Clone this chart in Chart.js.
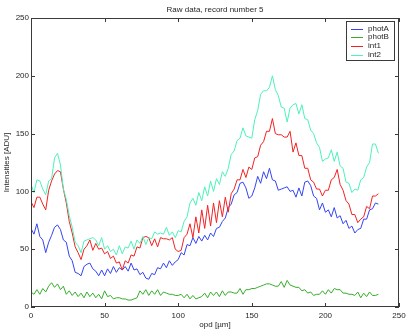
<!DOCTYPE html>
<html>
<head>
<meta charset="utf-8">
<script src="https://cdn.jsdelivr.net/npm/chart.js@4"></script>
<style>
  html, body { margin: 0; padding: 0; background: #fff; }
  canvas { display: block; }
</style>
</head>
<body>
<canvas id="chart" width="409" height="332"></canvas>
<script>
// opd sample positions [µm]
const opd = [
  0, 2, 4, 6, 8, 10, 12, 14, 16, 18, 20, 22, 24, 26, 28, 30, 32, 34, 36, 38,
  40, 42, 44, 46, 48, 50, 52, 54, 56, 58, 60, 62, 64, 66, 68, 70, 72, 74, 76, 78,
  80, 82, 84, 86, 88, 90, 92, 94, 96, 98, 100, 102, 104, 106, 108, 110, 112, 114, 116, 118,
  120, 122, 124, 126, 128, 130, 132, 134, 136, 138, 140, 142, 144, 146, 148, 150, 152, 154, 156, 158,
  160, 162, 164, 166, 168, 170, 172, 174, 176, 178, 180, 182, 184, 186, 188, 190, 192, 194, 196, 198,
  200, 202, 204, 206, 208, 210, 212, 214, 216, 218, 220, 222, 224, 226, 228, 230, 232, 234, 236
];

const photA = [
  68, 63, 72, 61, 58, 47, 56, 62, 69, 71,
  67, 58, 56, 44, 40, 30, 29, 27, 35, 37,
  38, 33, 31, 27, 32, 27, 33, 29, 35, 30,
  34, 32, 35, 31, 38, 32, 33, 28, 30, 25,
  24, 29, 28, 34, 33, 38, 34, 40, 36, 39,
  41, 47, 45, 54, 53, 60, 55, 61, 57, 62,
  58, 64, 61, 68, 69, 74, 77, 86, 89, 97,
  99, 107, 108, 103, 94, 96, 103, 113, 107, 117,
  111, 120, 110, 109, 101, 102, 103, 104, 100, 101,
  95, 103, 96, 108, 109, 105, 96, 94, 84, 90,
  82, 84, 78, 86, 77, 79, 72, 75, 68, 70,
  64, 67, 68, 76, 76, 84, 85, 90, 89
];

const photB = [
  13, 11, 15, 11, 16, 13, 18, 21, 17, 20,
  15, 18, 11, 14, 10, 13, 9, 12, 8, 13,
  9, 12, 8, 11, 7, 14, 9, 10, 7, 8,
  8, 7, 7, 6, 6, 7, 8, 14, 11, 15,
  10, 14, 11, 15, 10, 13, 12, 11, 11, 10,
  10, 11, 8, 11, 7, 10, 7, 8, 9, 12,
  8, 13, 10, 13, 9, 14, 10, 13, 13, 12,
  12, 16, 11, 15, 15, 16, 16, 17, 18, 19,
  20, 20, 19, 18, 18, 22, 17, 23, 19, 18,
  17, 17, 14, 15, 12, 13, 10, 11, 11, 14,
  11, 15, 12, 16, 15, 15, 12, 12, 11, 11,
  10, 13, 8, 12, 9, 13, 10, 10, 11
];

const int1 = [
  91, 86, 95, 95, 89, 84, 101, 109, 115, 118,
  117, 102, 90, 74, 64, 52, 47, 41, 50, 53,
  58, 49, 55, 50, 51, 46, 48, 42, 44, 38,
  39, 32, 40, 38, 45, 44, 52, 51, 60, 61,
  60, 53, 59, 52, 60, 59, 59, 58, 60, 50,
  48, 49, 60, 63, 72, 60, 78, 64, 84, 68,
  88, 70, 90, 73, 92, 78, 95, 82, 98, 102,
  110, 110, 119, 112, 121, 119, 129, 130, 140, 143,
  152, 152, 163, 150, 149, 149, 147, 147, 152, 134,
  142, 131, 131, 120, 120, 110, 108, 102, 102, 96,
  101, 101, 110, 112, 119, 106, 101, 92, 89, 80,
  80, 73, 76, 78, 87, 85, 96, 96, 98
];

const int2 = [
  106, 99, 110, 109, 102, 97, 109, 111, 129, 133,
  123, 102, 93, 79, 69, 56, 53, 47, 57, 58,
  59, 60, 58, 53, 60, 50, 53, 48, 50, 45,
  53, 46, 52, 51, 57, 50, 58, 55, 61, 54,
  60, 59, 65, 63, 64, 63, 69, 62, 65, 60,
  66, 65, 74, 78, 90, 94, 88, 99, 92, 104,
  96, 109, 100, 111, 106, 117, 113, 120, 132, 135,
  144, 146, 155, 148, 147, 146, 162, 170, 184, 187,
  187, 190, 200, 188, 183, 173, 172, 160, 172, 175,
  176, 167, 175, 163, 162, 153, 150, 142, 138, 126,
  128, 129, 136, 126, 134, 122, 120, 108, 107, 99,
  102, 101, 110, 112, 121, 125, 141, 141, 133
];

const seriesNames = ['photA', 'photB', 'int1', 'int2'];
const seriesColors = ['#3444f2', '#34ae28', '#f22222', '#4cf2b8'];
const xTicks = [0, 50, 100, 150, 200, 250];
const yTicks = [0, 50, 100, 150, 200, 250];

const FONT = '8px "Liberation Sans", Arial, sans-serif';
const INK = '#262626';

function toPoints(values) {
  return values.map((v, i) => ({ x: opd[i], y: v }));
}

// Matlab-like box, inward ticks, labels, titles and legend
const matlabAxes = {
  id: 'matlabAxes',
  afterDatasetsDraw(chart) {
    const { ctx, chartArea: a, scales: { x, y } } = chart;
    ctx.save();
    ctx.strokeStyle = '#3a3a3a';
    ctx.lineWidth = 1;
    ctx.strokeRect(a.left + 0.5, a.top + 0.5, a.right - a.left - 1, a.bottom - a.top - 1);

    ctx.beginPath();
    xTicks.forEach(v => {
      const px = Math.round(x.getPixelForValue(v)) + 0.5;
      ctx.moveTo(px, a.bottom); ctx.lineTo(px, a.bottom - 4);
      ctx.moveTo(px, a.top); ctx.lineTo(px, a.top + 4);
    });
    yTicks.forEach(v => {
      const py = Math.round(y.getPixelForValue(v)) + 0.5;
      ctx.moveTo(a.left, py); ctx.lineTo(a.left + 4, py);
      ctx.moveTo(a.right, py); ctx.lineTo(a.right - 4, py);
    });
    ctx.stroke();

    ctx.fillStyle = INK;
    ctx.font = FONT;
    ctx.textBaseline = 'middle';
    ctx.textAlign = 'center';
    xTicks.forEach(v => ctx.fillText(String(v), x.getPixelForValue(v), a.bottom + 9));
    ctx.textAlign = 'right';
    yTicks.forEach(v => ctx.fillText(String(v), a.left - 2, y.getPixelForValue(v)));

    // titles
    ctx.textAlign = 'center';
    ctx.fillText('Raw data, record number 5', (a.left + a.right) / 2, 9.5);
    ctx.fillText('opd [µm]', (a.left + a.right) / 2, a.bottom + 18);
    ctx.save();
    ctx.translate(7, (a.top + a.bottom) / 2);
    ctx.rotate(-Math.PI / 2);
    ctx.fillText('Intensities [ADU]', 0, 0);
    ctx.restore();

    // legend
    const lx = a.right - 53, ly = a.top + 3, lw = 49, lh = 40;
    ctx.fillStyle = '#fff';
    ctx.fillRect(lx, ly, lw, lh);
    ctx.strokeStyle = '#3a3a3a';
    ctx.strokeRect(lx + 0.5, ly + 0.5, lw - 1, lh - 1);
    ctx.textAlign = 'left';
    seriesNames.forEach((name, i) => {
      const ry = ly + 7.5 + i * 8.7;
      ctx.strokeStyle = seriesColors[i];
      ctx.beginPath();
      ctx.moveTo(lx + 5, Math.round(ry) + 0.5);
      ctx.lineTo(lx + 17, Math.round(ry) + 0.5);
      ctx.stroke();
      ctx.fillStyle = INK;
      ctx.fillText(name, lx + 22, ry);
    });
    ctx.restore();
  }
};

const allSeries = [photA, photB, int1, int2];

new Chart(document.getElementById('chart'), {
  type: 'line',
  data: {
    datasets: allSeries.map((vals, i) => ({
      label: seriesNames[i],
      data: toPoints(vals),
      borderColor: seriesColors[i],
      borderWidth: 1,
      pointRadius: 0,
      tension: 0,
      fill: false,
      order: 3 - i
    }))
  },
  options: {
    responsive: false,
    animation: false,
    layout: { padding: { left: 31, right: 10, top: 18, bottom: 25 } },
    scales: {
      x: { type: 'linear', min: 0, max: 250, display: false },
      y: { type: 'linear', min: 0, max: 250, display: false }
    },
    plugins: {
      legend: { display: false },
      title: { display: false },
      tooltip: { enabled: false }
    }
  },
  plugins: [matlabAxes]
});
</script>
</body>
</html>
